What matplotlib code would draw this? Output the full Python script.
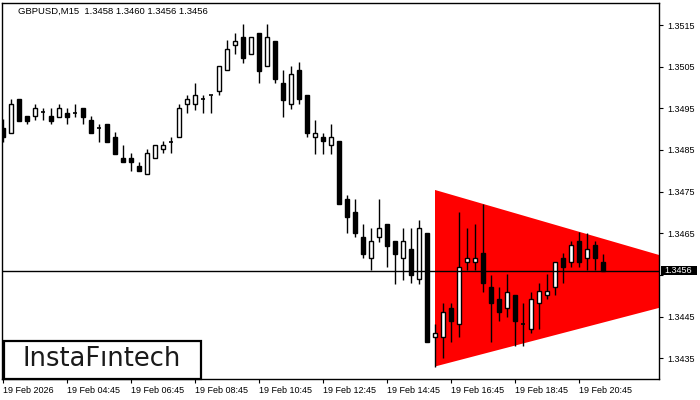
import matplotlib.pyplot as plt
from matplotlib.patches import Rectangle

# GBPUSD M15 candles, 19 Feb 2026 from 02:45
opens = [1.34902, 1.34890, 1.34972, 1.34932, 1.34932, 1.34942, 1.34932, 1.34930, 1.34940, 1.34940,
         1.34950, 1.34922, 1.34902, 1.34912, 1.34880, 1.34831, 1.34831, 1.34812, 1.34792, 1.34830,
         1.34852, 1.34870, 1.34880, 1.34960, 1.34960, 1.34972, 1.34981, 1.34991, 1.35041, 1.35101,
         1.35121, 1.35080, 1.35131, 1.35051, 1.35112, 1.35011, 1.34960, 1.35042, 1.34982, 1.34880,
         1.34880, 1.34861, 1.34871, 1.34732, 1.34701, 1.34641, 1.34590, 1.34641, 1.34672, 1.34631,
         1.34590, 1.34612, 1.34540, 1.34650, 1.34400, 1.34400, 1.34471, 1.34432, 1.34580, 1.34580,
         1.34602, 1.34520, 1.34492, 1.34470, 1.34501, 1.34432, 1.34421, 1.34482, 1.34501, 1.34520,
         1.34590, 1.34580, 1.34632, 1.34590, 1.34621, 1.34580]
highs = [1.34924, 1.34972, 1.34972, 1.34932, 1.34960, 1.34950, 1.34950, 1.34960, 1.34950, 1.34960,
         1.34950, 1.34932, 1.34912, 1.34912, 1.34892, 1.34862, 1.34842, 1.34821, 1.34852, 1.34862,
         1.34872, 1.34880, 1.34960, 1.34981, 1.35011, 1.34981, 1.34981, 1.35051, 1.35113, 1.35131,
         1.35152, 1.35121, 1.35131, 1.35152, 1.35112, 1.35041, 1.35052, 1.35061, 1.34982, 1.34922,
         1.34890, 1.34912, 1.34871, 1.34742, 1.34732, 1.34672, 1.34662, 1.34732, 1.34672, 1.34631,
         1.34662, 1.34662, 1.34682, 1.34650, 1.34432, 1.34482, 1.34482, 1.34702, 1.34662, 1.34672,
         1.34720, 1.34550, 1.34520, 1.34552, 1.34501, 1.34482, 1.34510, 1.34530, 1.34552, 1.34580,
         1.34602, 1.34632, 1.34652, 1.34650, 1.34632, 1.34600]
lows = [1.34870, 1.34890, 1.34920, 1.34912, 1.34922, 1.34922, 1.34912, 1.34930, 1.34912, 1.34930,
        1.34912, 1.34890, 1.34870, 1.34870, 1.34840, 1.34820, 1.34800, 1.34800, 1.34792, 1.34830,
        1.34842, 1.34842, 1.34880, 1.34940, 1.34946, 1.34940, 1.34940, 1.34981, 1.35041, 1.35080,
        1.35060, 1.35080, 1.35010, 1.35051, 1.35010, 1.34930, 1.34949, 1.34960, 1.34880, 1.34840,
        1.34840, 1.34840, 1.34720, 1.34650, 1.34640, 1.34590, 1.34562, 1.34630, 1.34570, 1.34528,
        1.34538, 1.34530, 1.34528, 1.34390, 1.34330, 1.34350, 1.34390, 1.34400, 1.34562, 1.34562,
        1.34510, 1.34390, 1.34440, 1.34450, 1.34380, 1.34380, 1.34410, 1.34421, 1.34492, 1.34501,
        1.34530, 1.34570, 1.34570, 1.34562, 1.34562, 1.34560]
closes = [1.34880, 1.34960, 1.34920, 1.34920, 1.34950, 1.34942, 1.34920, 1.34950, 1.34930, 1.34940,
          1.34930, 1.34890, 1.34902, 1.34870, 1.34840, 1.34820, 1.34820, 1.34800, 1.34842, 1.34862,
          1.34861, 1.34870, 1.34950, 1.34972, 1.34981, 1.34972, 1.34981, 1.35051, 1.35092, 1.35112,
          1.35070, 1.35121, 1.35040, 1.35121, 1.35020, 1.34971, 1.35032, 1.34972, 1.34890, 1.34890,
          1.34871, 1.34880, 1.34720, 1.34690, 1.34650, 1.34600, 1.34631, 1.34662, 1.34620, 1.34600,
          1.34631, 1.34550, 1.34662, 1.34390, 1.34410, 1.34460, 1.34440, 1.34570, 1.34590, 1.34590,
          1.34530, 1.34482, 1.34460, 1.34510, 1.34440, 1.34432, 1.34492, 1.34511, 1.34511, 1.34580,
          1.34570, 1.34621, 1.34580, 1.34612, 1.34590, 1.34560]

# triangle pattern (candle index, price)
tri_x = [54, 54, 94]
tri_y = [1.34754, 1.34330, 1.34531]

last_price = 1.3456
title = 'GBPUSD,M15  1.3458 1.3460 1.3456 1.3456'
xtick_pos = [0, 8, 16, 24, 32, 40, 48, 56, 64, 72]
xtick_labels = ['19 Feb 2026', '19 Feb 04:45', '19 Feb 06:45', '19 Feb 08:45', '19 Feb 10:45',
                '19 Feb 12:45', '19 Feb 14:45', '19 Feb 16:45', '19 Feb 18:45', '19 Feb 20:45']
ytick_vals = [1.3435, 1.3445, 1.3455, 1.3465, 1.3475, 1.3485, 1.3495, 1.3505, 1.3515]

plt.rcParams['font.family'] = ['Liberation Sans', 'DejaVu Sans']

fig = plt.figure(figsize=(7, 4), dpi=100)
ax = fig.add_axes([2 / 700, 1 - 379 / 400, 657 / 700, 376 / 400])

ax.fill(tri_x, tri_y, color='#ff0000', lw=0, zorder=1)

for i in range(len(opens)):
    o, h, l, c = opens[i], highs[i], lows[i], closes[i]
    ax.vlines(i, l, h, color='black', lw=1, zorder=3)
    if abs(c - o) < 0.00002:
        ax.hlines(o, i - 0.3, i + 0.3, color='black', lw=1.2, zorder=4)
    else:
        fc = 'white' if c > o else 'black'
        ax.bar(i, abs(c - o), bottom=min(o, c), width=0.5, color=fc,
               edgecolor='black', lw=1.0, zorder=4)

ax.axhline(last_price, color='black', lw=1, zorder=5)

ax.set_xlim(-0.125, 82)
ax.set_ylim(1.34300, 1.35203)

ax.yaxis.tick_right()
ax.set_yticks(ytick_vals)
# the 1.3455 label sits under the last price marker
ax.set_yticklabels(['' if abs(v - 1.3455) < 1e-6 else '%.4f' % v for v in ytick_vals])
ax.set_xticks(xtick_pos)
ax.set_xticklabels(xtick_labels, ha='left')
ax.tick_params(axis='both', direction='out', length=3, width=0.8, labelsize=6.5, colors='black')
ax.tick_params(axis='y', pad=3)
ax.tick_params(axis='x', pad=2)
for s in ax.spines.values():
    s.set_linewidth(1)
    s.set_color('black')

ax.text(16 / 657, 1 - 8 / 376, title, transform=ax.transAxes,
        fontsize=6.8, va='center', ha='left', color='black')

# last price marker on the price axis
ytr = ax.get_yaxis_transform()
ax.add_patch(Rectangle((1.0023, last_price - 0.000112), 0.0548, 0.000224, transform=ytr,
                       fc='black', ec='none', clip_on=False, zorder=10))
ax.text(1.0023 + 0.0274, last_price, '%.4f' % last_price, transform=ytr,
        fontsize=6.5, color='white', va='center', ha='center', zorder=11, clip_on=False)

# logo
fig.patches.append(Rectangle((3.5 / 700, 1 - 378.5 / 400), 197 / 700, 38 / 400,
                             transform=fig.transFigure, fc='white', ec='black', lw=1.6, zorder=10))
fig.text(101.7 / 700, 1 - 359 / 400, 'InstaF\u0131ntech', family='DejaVu Sans', fontsize=18.5,
         color='#1a1a1a', ha='center', va='center', zorder=11)

fig.savefig('out.png', dpi=100)
